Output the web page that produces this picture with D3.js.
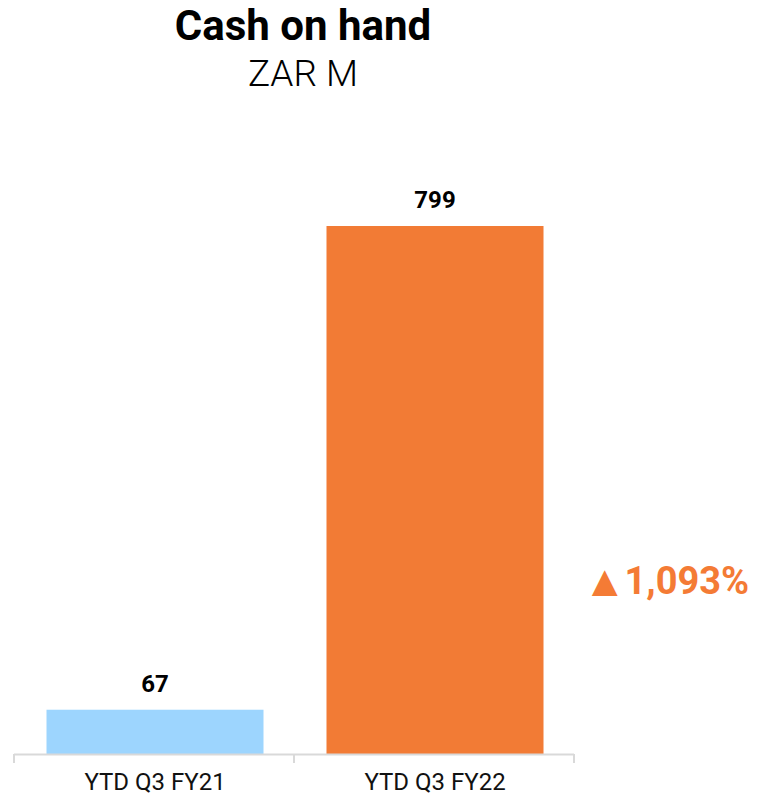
<!DOCTYPE html>
<html>
<head>
<meta charset="utf-8">
<script src="https://cdn.jsdelivr.net/npm/d3@7"></script>
<style>
  body { margin: 0; background: #fff; }
  text { font-family: Roboto, "Noto Sans", sans-serif; }
</style>
</head>
<body>
<div id="chart"></div>
<script>
const categories = ['YTD Q3 FY21', 'YTD Q3 FY22'];
const values = [67, 799];
const barColors = ['#9dd5fe', '#f27b35'];
const changeArrow = '\u25B2';
const changeLabel = '1,093%';

const wSvg = 759, hSvg = 796;
const baseY = 754, topY = 226;
const axisLeft = 14, axisRight = 574;

const svg = d3.select('#chart')
    .append('svg')
    .attr('width', wSvg)
    .attr('height', hSvg);

// title
svg.append('text')
    .attr('x', 303).attr('y', 40)
    .attr('text-anchor', 'middle')
    .style('font-size', '42px')
    .style('font-weight', 700)
    .text('Cash on hand');

svg.append('text')
    .attr('x', 303).attr('y', 86)
    .attr('text-anchor', 'middle')
    .style('font-size', '37px')
    .style('font-weight', 300)
    .text('ZAR M');

const xScale = d3.scaleBand()
    .domain(categories)
    .range([axisLeft, axisRight])
    .paddingInner(0.225)
    .paddingOuter(0.1125);

const yScale = d3.scaleLinear()
    .domain([0, d3.max(values)])
    .range([baseY, topY]);

// bars
svg.append('g').selectAll('rect')
    .data(values)
    .enter()
    .append('rect')
    .attr('x', (d, i) => xScale(categories[i]) + 1)
    .attr('width', xScale.bandwidth())
    .attr('y', d => yScale(d))
    .attr('height', d => baseY - yScale(d))
    .attr('fill', (d, i) => barColors[i]);

// value labels
svg.append('g').selectAll('text')
    .data(values)
    .enter()
    .append('text')
    .attr('x', (d, i) => xScale(categories[i]) + 1 + xScale.bandwidth() / 2)
    .attr('y', d => yScale(d) - 18)
    .attr('text-anchor', 'middle')
    .style('font-size', '24px')
    .style('font-weight', 700)
    .text(d => d);

// x axis, ticks at band edges
const gx = svg.append('g');
gx.append('line')
    .attr('x1', axisLeft).attr('x2', axisRight)
    .attr('y1', baseY + 0.5).attr('y2', baseY + 0.5)
    .attr('stroke', '#d9d9d9').attr('stroke-width', 2);

const edges = d3.range(categories.length + 1).map(i => axisLeft + i * xScale.step());
gx.selectAll('.tick')
    .data(edges)
    .enter()
    .append('line')
    .attr('x1', d => d).attr('x2', d => d)
    .attr('y1', baseY).attr('y2', baseY + 9)
    .attr('stroke', '#d9d9d9').attr('stroke-width', 2);

gx.selectAll('.cat')
    .data(categories)
    .enter()
    .append('text')
    .attr('x', d => xScale(d) + 1 + xScale.bandwidth() / 2)
    .attr('y', 790)
    .attr('text-anchor', 'middle')
    .style('font-size', '24px')
    .style('fill', '#111')
    .text(d => d);

// change label
const change = svg.append('text')
    .attr('x', 583).attr('y', 594)
    .style('font-weight', 700)
    .style('fill', '#f47b35');
change.append('tspan')
    .style('font-size', '44px')
    .attr('dy', 2)
    .text(changeArrow);
change.append('tspan')
    .style('font-size', '38px')
    .attr('dy', -2)
    .attr('dx', -2)
    .text(changeLabel);
</script>
</body>
</html>
